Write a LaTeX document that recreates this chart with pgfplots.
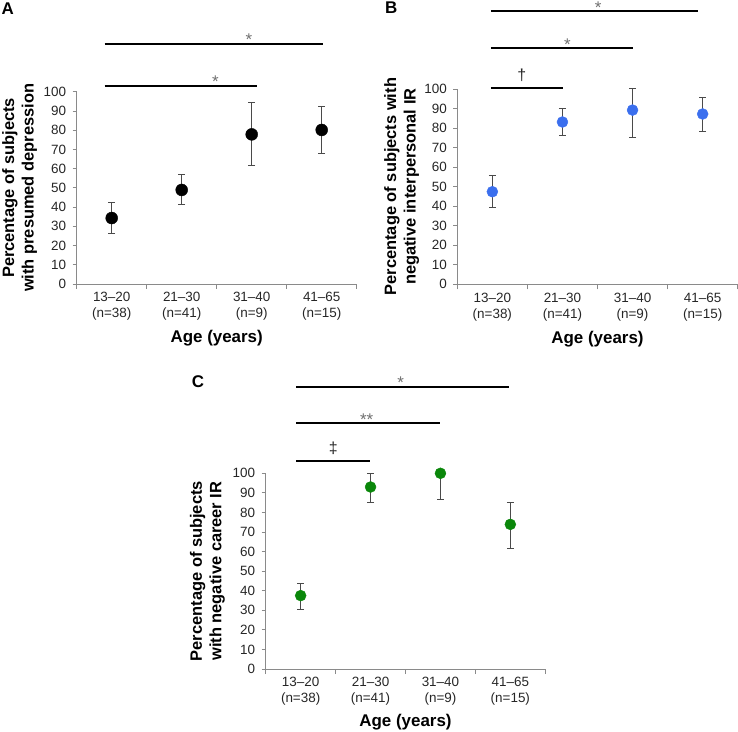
\documentclass[border=0pt]{standalone}
\usepackage{fontspec}
\setmainfont{Liberation Sans}
\usepackage{pgfplots}
\pgfplotsset{compat=1.18}
\definecolor{axisgray}{HTML}{8A8A8A}
\definecolor{errgray}{HTML}{4A4A4A}
\definecolor{stargray}{HTML}{707070}
\definecolor{dotblue}{HTML}{3B6FEE}
\definecolor{dotgreen}{HTML}{0A870A}
\tikzset{
 star/.style={anchor=base, inner sep=0pt, text=stargray, font=\fontsize{17}{17}\selectfont},
 dag/.style={anchor=base, inner sep=0pt, text=black!85, font=\fontsize{16}{16}\selectfont},
}
\pgfplotsset{
 panel/.style={
  scale only axis,
  xmin=-0.5, xmax=3.5, ymin=0, ymax=100,
  axis x line*=bottom, axis y line*=left,
  axis line style={draw=axisgray, line width=0.8bp},
  tick style={draw=axisgray, line width=0.8bp},
  tick align=outside,
  major tick length=4bp, minor tick length=5bp,
  ytick={0,10,...,100},
  xtick={0,1,2,3},
  xticklabels={{13--20\\(n=38)},{21--30\\(n=41)},{31--40\\(n=9)},{41--65\\(n=15)}},
  major x tick style={draw=none},
  minor xtick={-0.5,0.5,1.5,2.5,3.5},
  xticklabel style={align=center, font=\fontsize{13.5}{16}\selectfont, text=black!85, yshift=-1bp},
  yticklabel style={font=\fontsize{13.5}{15}\selectfont, text=black!85, xshift=-3bp},
  clip=false,
  /pgf/number format/assume math mode=true,
  xlabel={Age (years)},
  every axis x label/.style={at={(axis description cs:0.5,0)}, anchor=base, yshift=-59bp, font=\bfseries\fontsize{17}{20}\selectfont},
  every axis y label/.style={rotate=90, anchor=south, align=center, inner sep=0pt, font=\bfseries\fontsize{16.5}{19.5}\selectfont},
 },
 ebar/.style={error bars/.cd, y dir=both, y explicit,
  error bar style={color=errgray, line width=1bp},
  error mark options={rotate=90, mark size=3.5bp, line width=1bp, color=errgray}},
 sig/.style={black, line width=2.2bp, no marks},
}
\begin{document}
\begin{tikzpicture}
\path[use as bounding box] (0,0) rectangle (738bp,732bp);
% Panel A
\begin{axis}[panel, width=280bp, height=192.3bp, at={(76.7bp,448bp)}, anchor=south west,
  ylabel={Percentage of subjects\\with presumed depression},
  ylabel style={at={(axis description cs:-0.141,0.5)}}]
\addplot[sig] coordinates {(-0.1,125) (3.02,125)};
\addplot[sig] coordinates {(-0.1,103.1) (2.08,103.1)};
\node[star] at (axis cs:1.96,124) {*};
\node[star] at (axis cs:1.48,102.1) {*};
\addplot[only marks, mark=*, mark size=6bp, mark options={fill=black, draw=black}, ebar]
 coordinates {(0,34.3) += (0,7.9) -= (0,8.0)
              (1,48.9) += (0,7.9) -= (0,7.5)
              (2,77.8) += (0,16.7) -= (0,16.3)
              (3,80.1) += (0,12.4) -= (0,12.2)};
\end{axis}
% Panel B
\begin{axis}[panel, width=280.4bp, height=195.3bp, at={(457.3bp,447.7bp)}, anchor=south west,
  ylabel={Percentage of subjects with\\negative interpersonal IR},
  ylabel style={at={(axis description cs:-0.1355,0.5)}}]
\addplot[sig] coordinates {(-0.02,139.9) (2.94,139.9)};
\addplot[sig] coordinates {(-0.02,120.8) (2.01,120.8)};
\addplot[sig] coordinates {(-0.02,100.4) (1.01,100.4)};
\node[star] at (axis cs:1.51,138.9) {*};
\node[star] at (axis cs:1.07,119.8) {*};
\node[dag] at (axis cs:0.42,104.2) {†};
\addplot[only marks, mark=*, mark size=5.5bp, mark options={fill=dotblue, draw=dotblue}, ebar]
 coordinates {(0,47.4) += (0,8.2) -= (0,8.2)
              (1,83.1) += (0,7.0) -= (0,6.8)
              (2,89.2) += (0,11.0) -= (0,13.8)
              (3,87.2) += (0,8.7) -= (0,9.0)};
\end{axis}
% Panel C
\begin{axis}[panel, width=279.6bp, height=195.7bp, at={(265.7bp,63bp)}, anchor=south west,
  ylabel={Percentage of subjects\\with negative career IR},
  ylabel style={at={(axis description cs:-0.1456,0.5)}},
  every axis x label/.append style={yshift=1.3bp}]
\addplot[sig] coordinates {(-0.066,144.1) (2.985,144.1)};
\addplot[sig] coordinates {(-0.066,125.6) (1.99,125.6)};
\addplot[sig] coordinates {(-0.066,106.3) (0.99,106.3)};
\node[star] at (axis cs:1.43,143.1) {*};
\node[star] at (axis cs:0.945,124.6) {**};
\node[dag] at (axis cs:0.467,110.2) {‡};
\addplot[only marks, mark=*, mark size=5.5bp, mark options={fill=dotgreen, draw=dotgreen}, ebar]
 coordinates {(0,37.5) += (0,6.1) -= (0,7.2)
              (1,93.0) += (0,6.8) -= (0,7.8)
              (2,100) += (0,0) -= (0,13.5)
              (3,73.9) += (0,11.1) -= (0,12.1)};
\end{axis}
% Panel letters
\node[anchor=north west, inner sep=0pt, font=\bfseries\fontsize{17}{17}\selectfont] at (1.5bp,729bp) {A};
\node[anchor=north west, inner sep=0pt, font=\bfseries\fontsize{17}{17}\selectfont] at (385bp,730.3bp) {B};
\node[anchor=north west, inner sep=0pt, font=\bfseries\fontsize{17}{17}\selectfont] at (191.7bp,357bp) {C};
\end{tikzpicture}
\end{document}
